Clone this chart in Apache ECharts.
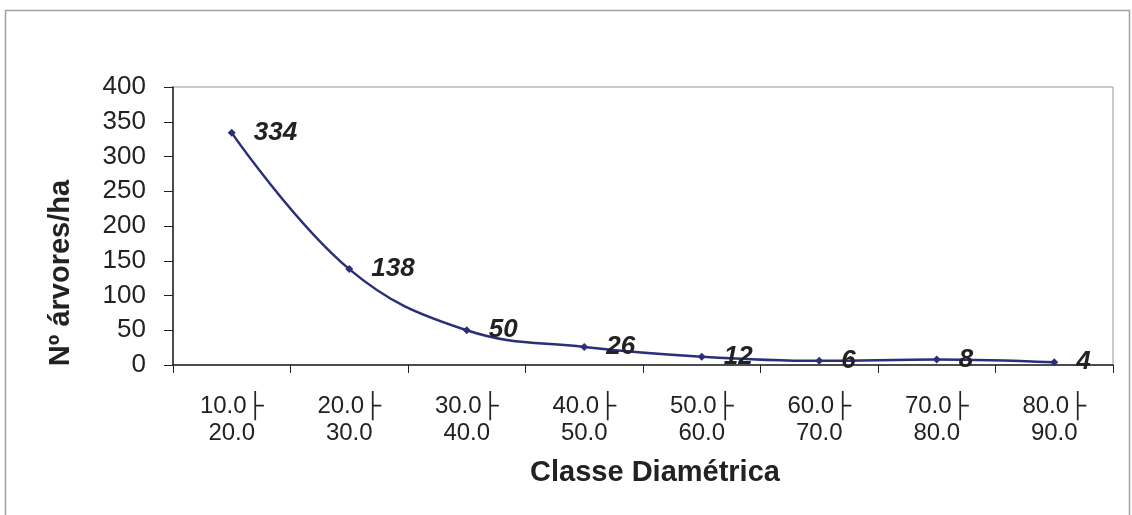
<!DOCTYPE html>
<html>
<head>
<meta charset="utf-8">
<script src="https://cdn.jsdelivr.net/npm/echarts@6/dist/echarts.min.js"></script>
<style>
html,body{margin:0;padding:0;background:#fff;}
#c{width:1132px;height:515px;}
</style>
</head>
<body>
<div id="c"></div>
<script>
var categories = ["10.0├\n20.0","20.0├\n30.0","30.0├\n40.0","40.0├\n50.0","50.0├\n60.0","60.0├\n70.0","70.0├\n80.0","80.0├\n90.0"];
var values = [334, 138, 50, 26, 12, 6, 8, 4];
var yTicks = {min: 0, max: 400, interval: 50};
var yTitle = "Nº árvores/ha";
var xTitle = "Classe Diamétrica";

var chart = echarts.init(document.getElementById('c'), null, {renderer: 'canvas'});
chart.setOption({
  animation: false,
  backgroundColor: '#fff',
  graphic: [{
    type: 'rect', left: 3, top: 8, silent: true,
    shape: {width: 1124, height: 520},
    style: {fill: 'none', stroke: '#a0a0a0', lineWidth: 1.5}
  }],
  grid: {left: 173, right: 19, top: 87, bottom: 150, show: true, borderColor: '#999', borderWidth: 1},
  xAxis: {
    type: 'category',
    data: categories,
    boundaryGap: true,
    name: xTitle,
    nameLocation: 'middle',
    nameGap: 93,
    nameTextStyle: {fontFamily: 'Liberation Sans, Arial', fontWeight: 'bold', fontSize: 29, color: '#222', padding: [0, 0, 0, 24]},
    axisLine: {lineStyle: {color: '#222', width: 1.5}},
    axisTick: {show: true, length: 8, alignWithLabel: false, lineStyle: {color: '#222'}},
    axisLabel: {fontFamily: 'Liberation Sans, DejaVu Sans, Arial', fontSize: 24, color: '#222', margin: 28, lineHeight: 27, interval: 0}
  },
  yAxis: {
    type: 'value',
    min: yTicks.min, max: yTicks.max, interval: yTicks.interval,
    name: yTitle,
    nameLocation: 'middle',
    nameGap: 98,
    nameTextStyle: {fontFamily: 'Liberation Sans, Arial', fontWeight: 'bold', fontSize: 29, color: '#222', padding: [0, 94, 0, 0]},
    axisLine: {show: true, lineStyle: {color: '#222', width: 1.5}},
    axisTick: {show: true, length: 9, lineStyle: {color: '#222'}},
    axisLabel: {fontFamily: 'Liberation Sans, Arial', fontSize: 26, color: '#222', margin: 27},
    splitLine: {show: false}
  },
  series: [{
    type: 'line',
    data: values,
    smooth: 0.4,
    symbol: 'diamond',
    symbolSize: 8,
    lineStyle: {color: '#2a2f78', width: 2.5},
    itemStyle: {color: '#2a2f78'},
    label: {
      show: true,
      position: 'right',
      distance: 18,
      fontFamily: 'Liberation Sans, Arial',
      fontStyle: 'italic',
      fontWeight: 'bold',
      fontSize: 26,
      color: '#222'
    }
  }]
});
</script>
</body>
</html>
